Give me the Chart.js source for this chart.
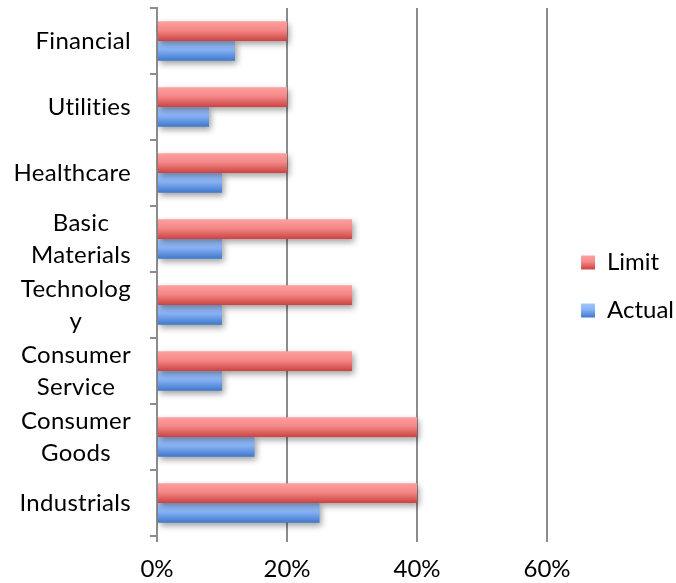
<!DOCTYPE html>
<html>
<head>
<meta charset="utf-8">
<script src="https://cdn.jsdelivr.net/npm/chart.js@4"></script>
<style>
  html, body { margin: 0; padding: 0; background: #fff; }
  #wrap { width: 676px; height: 583px; }
</style>
</head>
<body>
<div id="wrap"><canvas id="sectorChart" width="676" height="583"></canvas></div>
<script>
// data, top to bottom
const categories = ['Financial', 'Utilities', 'Healthcare', ['Basic', 'Materials'], ['Technolog', 'y'],
                    ['Consumer', 'Service'], ['Consumer', 'Goods'], 'Industrials'];
const limitValues = [20, 20, 20, 30, 30, 30, 40, 40];
const actualValues = [12, 8, 10, 10, 10, 10, 15, 25];
const xTicks = [0, 20, 40, 60];

const FONT = 'Lato';
const FONT_SIZE = 24;
const GRID = '#8c8c8c';
const RED = ['#ff9f9f', '#f48988', '#cb4240'];
const BLUE = ['#a0c6ff', '#86b1f4', '#3e77cb'];

function makeGradient(ctx, y0, y1, stops) {
    const g = ctx.createLinearGradient(0, y0, 0, y1);
    g.addColorStop(0, stops[0]);
    g.addColorStop(0.45, stops[1]);
    g.addColorStop(1, stops[2]);
    return g;
}

function barGradient(stops) {
    return function(c) {
        if (c.type !== 'data' || !c.chart.chartArea) return stops[1];
        const y = c.chart.scales.y;
        const band = y.height / categories.length * 0.6 / 2;
        const center = y.getPixelForValue(c.dataIndex);
        const start = c.datasetIndex === 0 ? center - band : center;
        return makeGradient(c.chart.ctx, start, start + band, stops);
    };
}

// bars get a soft drop shadow like the office chart
const shadowPlugin = {
    id: 'barShadow',
    beforeDatasetsDraw(chart) {
        const ctx = chart.ctx;
        ctx.save();
        ctx.shadowColor = 'rgba(0,0,0,0.38)';
        ctx.shadowBlur = 6;
        ctx.shadowOffsetX = 2;
        ctx.shadowOffsetY = 3;
    },
    afterDatasetsDraw(chart) {
        chart.ctx.restore();
    }
};

// nudge the legend a bit and give its boxes the same shading as the bars
const legendPlugin = {
    id: 'legendTweak',
    afterUpdate(chart) {
        const lg = chart.legend;
        const dx = 10, dy = -9;
        lg.left += dx; lg.right += dx;
        lg.top += dy; lg.bottom += dy;
        lg.legendItems.forEach((item, i) => {
            const hb = lg.legendHitBoxes[i];
            hb.left += dx; hb.top += dy;
            const top = hb.top + (FONT_SIZE - 14) / 2;
            item.fillStyle = makeGradient(chart.ctx, top, top + 14, i === 0 ? RED : BLUE);
        });
    }
};

// category labels: block right aligned, lines centred inside the block
const yLabelPlugin = {
    id: 'yLabels',
    afterDraw(chart) {
        const ctx = chart.ctx;
        const y = chart.scales.y;
        const lineHeight = 32;
        ctx.save();
        ctx.font = FONT_SIZE + 'px ' + FONT;
        ctx.letterSpacing = '0.3px';
        ctx.fillStyle = '#000';
        ctx.textAlign = 'center';
        ctx.textBaseline = 'middle';
        const right = y.right - 26;
        categories.forEach((label, i) => {
            const lines = Array.isArray(label) ? label : [label];
            const w = Math.max(...lines.map(l => ctx.measureText(l).width));
            const cx = right - w / 2;
            const cy = y.getPixelForValue(i);
            lines.forEach((l, j) => {
                ctx.fillText(l, cx, cy + (j - (lines.length - 1) / 2) * lineHeight);
            });
        });
        ctx.restore();
    }
};

Chart.defaults.font.family = FONT;
Chart.defaults.color = '#000';

new Chart(document.getElementById('sectorChart'), {
    type: 'bar',
    data: {
        labels: categories,
        datasets: [{
            label: 'Limit',
            data: limitValues,
            backgroundColor: barGradient(RED)
        }, {
            label: 'Actual',
            data: actualValues,
            backgroundColor: barGradient(BLUE)
        }]
    },
    options: {
        indexAxis: 'y',
        responsive: false,
        animation: false,
        layout: { padding: { top: 8, right: 2, left: 0, bottom: 0 } },
        datasets: { bar: { categoryPercentage: 0.6, barPercentage: 1.0 } },
        scales: {
            x: {
                min: 0,
                max: 60,
                afterBuildTicks(scale) { scale.ticks = xTicks.map(v => ({ value: v })); },
                afterFit(scale) { scale.height = 47; },
                ticks: {
                    callback: v => v + '%',
                    font: { size: FONT_SIZE },
                    padding: 13,
                    maxRotation: 0
                },
                grid: { color: GRID, lineWidth: 2, tickLength: 6 },
                border: { display: false }
            },
            y: {
                afterFit(scale) { scale.width = 157; },
                ticks: { display: false },
                grid: { drawOnChartArea: false, color: GRID, lineWidth: 2, tickLength: 7 },
                border: { display: true, color: GRID, width: 2 }
            }
        },
        plugins: {
            legend: {
                position: 'right',
                labels: {
                    boxWidth: 14,
                    boxHeight: 14,
                    padding: 24,
                    font: { size: FONT_SIZE },
                    color: '#000'
                }
            },
            tooltip: { enabled: false }
        }
    },
    plugins: [shadowPlugin, legendPlugin, yLabelPlugin]
});
</script>
</body>
</html>
